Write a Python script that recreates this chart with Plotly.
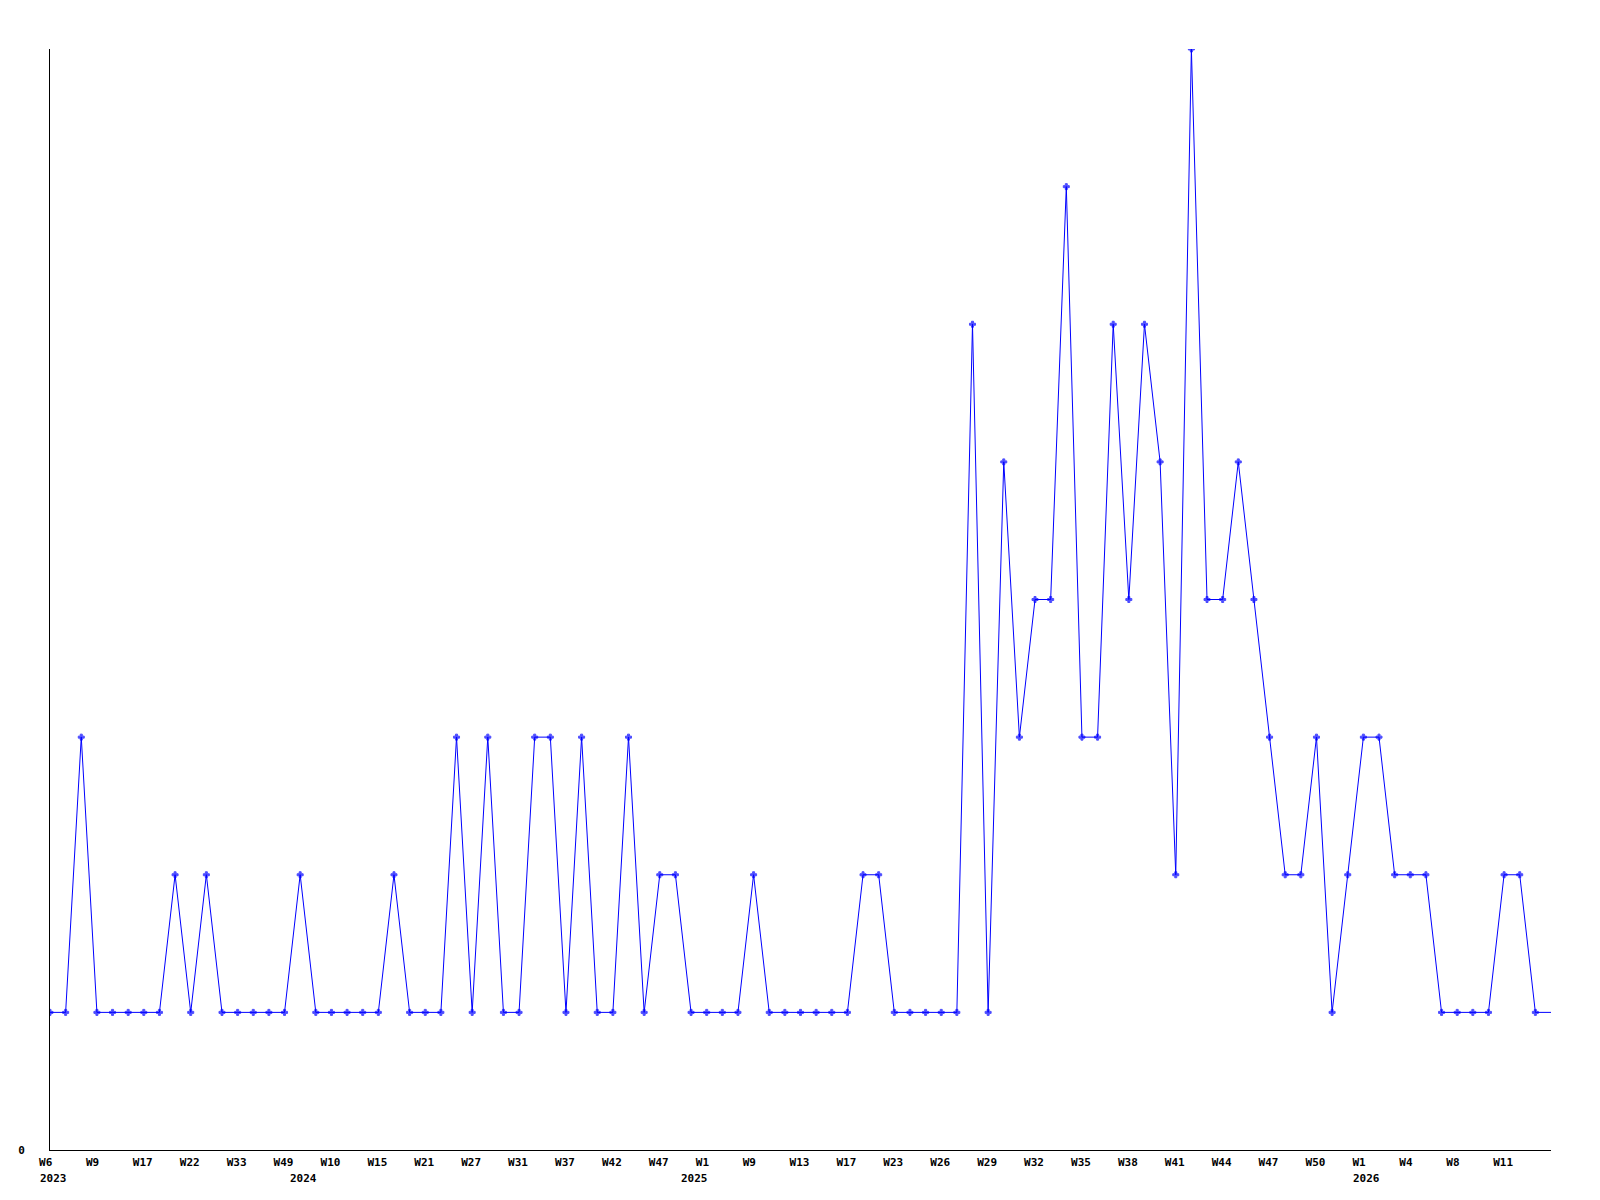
import plotly.graph_objects as go

# Weekly values, one per point (index 0 .. 96)
values = [
    1, 1, 3, 1, 1, 1, 1, 1, 2, 1,
    2, 1, 1, 1, 1, 1, 2, 1, 1, 1,
    1, 1, 2, 1, 1, 1, 3, 1, 3, 1,
    1, 3, 3, 1, 3, 1, 1, 3, 1, 2,
    2, 1, 1, 1, 1, 2, 1, 1, 1, 1,
    1, 1, 2, 2, 1, 1, 1, 1, 1, 6,
    1, 5, 3, 4, 4, 7, 3, 3, 6, 4,
    6, 5, 2, 8, 4, 4, 5, 4, 3, 2,
    2, 3, 1, 2, 3, 3, 2, 2, 2, 1,
    1, 1, 1, 2, 2, 1, 1,
]

# Tick labels, one every 3 points
week_labels = [
    "W6", "W9", "W17", "W22", "W33", "W49", "W10", "W15", "W21", "W27",
    "W31", "W37", "W42", "W47", "W1", "W9", "W13", "W17", "W23", "W26",
    "W29", "W32", "W35", "W38", "W41", "W44", "W47", "W50", "W1", "W4",
    "W8", "W11",
]
# Year labels and the point index where each year starts
years = ["2023", "2024", "2025", "2026"]
year_start_index = [0, 16, 41, 84]

x = list(range(len(values)))
tick_step = 3
tickvals = [i * tick_step for i in range(len(week_labels))]
# left-align labels (monospace): pad to a common width with non-breaking spaces
ticktext = [w.ljust(3, "\u00a0") for w in week_labels]
marker_sizes = [5] * (len(values) - 1) + [0]

fig = go.Figure(
    go.Scatter(
        x=x,
        y=values,
        mode="lines+markers",
        line=dict(color="#0000FF", width=1),
        marker=dict(symbol="cross", size=marker_sizes, color="#0000FF",
                    line=dict(color="#0000FF", width=1)),
        hoverinfo="skip",
    )
)

font = dict(family="DejaVu Sans Mono", size=11, color="black", weight="bold")

for yr, xi in zip(years, year_start_index):
    fig.add_annotation(
        x=xi, y=0, xref="x", yref="paper",
        text=yr, showarrow=False,
        xanchor="center", yanchor="middle",
        xshift=3, yshift=-28,
        font=font,
    )

fig.update_layout(
    width=1584,
    height=1184,
    margin=dict(l=42, r=41, t=41, b=42, autoexpand=False),
    paper_bgcolor="white",
    plot_bgcolor="white",
    showlegend=False,
    font=font,
)
fig.update_xaxes(
    range=[0, len(values) - 1],
    tickmode="array",
    tickvals=tickvals,
    ticktext=ticktext,
    showgrid=False,
    zeroline=False,
    showline=True,
    linecolor="black",
    linewidth=1,
    ticks="",
    tickfont=font,
    ticklabelstandoff=2,
    ticklabelshift=-1,
    automargin=False,
)
fig.update_yaxes(
    range=[0, 8],
    tickmode="array",
    tickvals=[0],
    ticktext=["0"],
    showgrid=False,
    zeroline=False,
    showline=True,
    linecolor="black",
    linewidth=1,
    ticks="",
    tickfont=font,
    ticklabelstandoff=22,
    automargin=False,
)

fig.write_html("out.html")
